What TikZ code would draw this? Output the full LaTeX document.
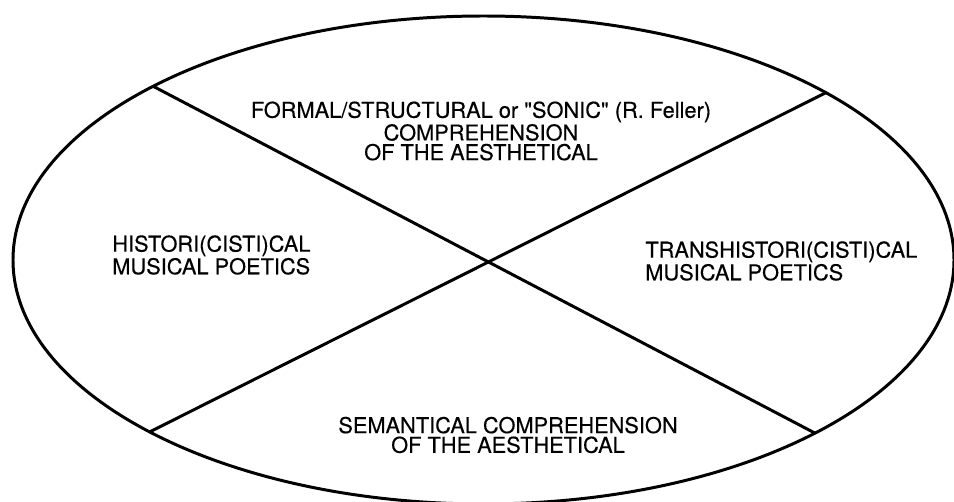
\documentclass[tikz,border=0pt]{standalone}
\usepackage{fontspec}
\setmainfont{TeX Gyre Heros}[FakeBold=0.35, Ligatures=TeXOff]
\begin{document}
\begin{tikzpicture}[x=0.02cm,y=0.02cm,
  lbl/.style={font=\fontsize{12.4}{11.2}\selectfont, inner sep=0pt},
  divider/.style={line width=1.7pt, line cap=round}]
\useasboundingbox (0,0) rectangle (954,501);
\coordinate (c) at (483.5,241);
\draw[divider] (c) ellipse [x radius=470.5, y radius=244];
\coordinate (ul) at ([shift={(134.6:470.5 and 244)}]c);
\coordinate (ur) at ([shift={(43.3:470.5 and 244)}]c);
\coordinate (ll) at ([shift={(224.8:470.5 and 244)}]c);
\coordinate (lr) at ([shift={(-45.2:470.5 and 244)}]c);
\draw[divider] (ul) -- (lr);
\draw[divider] (ur) -- (ll);
\node[lbl, align=center] (formal) at (481,370)
  {FORMAL/STRUCTURAL or "SONIC" (R. Feller)\\COMPREHENSION\\OF THE AESTHETICAL};
\node[lbl, align=left, anchor=west] (hist) at (112,246)
  {HISTORI(CISTI)CAL\\MUSICAL POETICS};
\node[lbl, align=left, anchor=west] (trans) at (645,240)
  {TRANSHISTORI(CISTI)CAL\\MUSICAL POETICS};
\node[lbl, align=center] (sem) at (508,66)
  {SEMANTICAL COMPREHENSION\\OF THE AESTHETICAL};
\end{tikzpicture}
\end{document}
